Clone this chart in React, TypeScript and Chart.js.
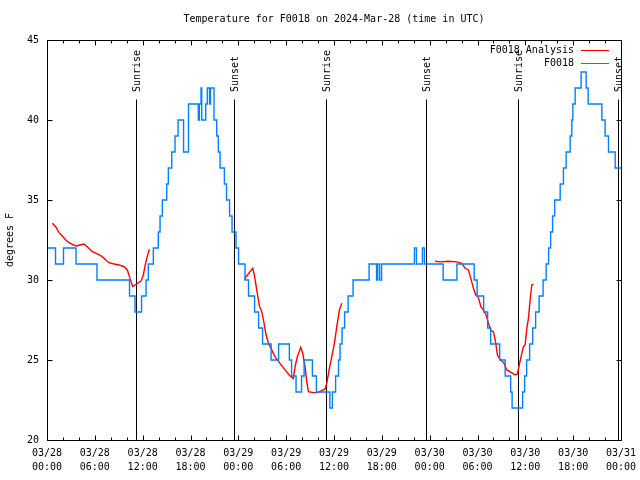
import React, { useEffect, useRef } from 'react';
import { Chart, registerables } from 'chart.js';

Chart.register(...registerables);

const TITLE = 'Temperature for F0018 on 2024-Mar-28 (time in UTC)';
const Y_TITLE = 'degrees F';
const FONT = '"DejaVu Sans Mono", "Liberation Mono", monospace';

// x axis: hours since 03/28 00:00 UTC
const xTickDates = ['03/28', '03/28', '03/28', '03/28', '03/29', '03/29', '03/29', '03/29', '03/30', '03/30', '03/30', '03/30', '03/31'];
const xTickTimes = ['00:00', '06:00', '12:00', '18:00', '00:00', '06:00', '12:00', '18:00', '00:00', '06:00', '12:00', '18:00', '00:00'];

// Sunrise / sunset markers (hours)
const sunEventHours = [11.13, 23.5, 35.05, 47.6, 59.12, 71.68];
const sunEventLabels = ['Sunrise', 'Sunset', 'Sunrise', 'Sunset', 'Sunrise', 'Sunset'];

// F0018 observations: value holds from each change time to the next
const obsHours = [0, 1.07, 2.07, 3.64, 6.27, 10.35, 11.04, 11.86, 12.42, 12.71, 13.34, 13.96, 14.18, 14.47, 15.02, 15.22, 15.65, 16.06, 16.44, 17.13, 17.75, 18.98, 19.11, 19.32, 19.41, 19.91, 20.11, 20.39, 20.51, 20.95, 21.29, 21.49, 21.71, 22.25, 22.52, 22.9, 23.21, 23.71, 24.03, 24.84, 25.28, 26.04, 26.54, 27.04, 28.11, 29.05, 30.4, 30.68, 31.24, 31.93, 32.25, 33.29, 33.79, 35.48, 35.8, 36.2, 36.57, 36.76, 37.01, 37.33, 37.77, 38.39, 40.4, 41.34, 41.47, 41.72, 41.97, 46.09, 46.34, 47.09, 47.34, 49.69, 51.42, 53.58, 53.95, 54.77, 55.27, 55.65, 56.78, 57.47, 58.16, 58.34, 59.66, 59.91, 60.16, 60.54, 60.92, 61.29, 61.73, 62.23, 62.61, 62.92, 63.17, 63.42, 63.68, 64.37, 64.78, 65.12, 65.62, 65.83, 65.96, 66.25, 67.0, 67.63, 67.88, 69.6, 70.01, 70.43, 71.27, 72];
const obsTemps = [32, 31, 32, 31, 30, 29, 28, 29, 30, 31, 32, 33, 34, 35, 36, 37, 38, 39, 40, 38, 41, 40, 41, 42, 40, 41, 42, 41, 42, 40, 39, 38, 37, 36, 35, 34, 33, 32, 31, 30, 29, 28, 27, 26, 25, 26, 25, 24, 23, 24, 25, 24, 23, 22, 23, 24, 25, 26, 27, 28, 29, 30, 31, 30, 31, 30, 31, 32, 31, 32, 31, 30, 31, 30, 29, 28, 27, 26, 25, 24, 23, 22, 23, 24, 25, 26, 27, 28, 29, 30, 31, 32, 33, 34, 35, 36, 37, 38, 39, 40, 41, 42, 43, 42, 41, 40, 39, 38, 37, 37];

// F0018 Analysis: three runs separated by gaps (null)
const analysisHours = [
  0.66, 1.09, 1.51, 1.92, 2.35, 2.76, 3.17, 3.68, 4.14, 4.64, 5.06, 5.68, 6.31, 6.94, 7.37, 7.78, 8.41, 9.03, 9.66, 10.08, 10.41, 10.75, 11.25, 11.79, 12.08, 12.3, 12.51, 12.84,
  18.0,
  24.76, 25.06, 25.47, 25.81, 26.01, 26.31, 26.64, 26.94, 27.23, 27.44, 27.77, 28.19, 28.61, 29.23, 29.86, 30.49, 30.9, 31.12, 31.4, 31.83, 32.08, 32.37, 32.58, 32.79, 33.41, 33.91, 34.47, 34.88, 35.09, 35.42, 35.72, 36.05, 36.35, 36.68, 36.98,
  42.0,
  48.68, 49.31, 50.35, 51.4, 52.03, 52.45, 52.86, 53.16, 53.49, 53.79, 54.11, 54.42, 54.74, 55.08, 55.37, 55.71, 56.0, 56.3, 56.5, 56.84, 57.34, 57.68, 58.31, 58.72, 59.01, 59.26, 59.56, 59.76, 59.97, 60.19, 60.39, 60.6, 60.81, 61.02,
];
const analysisTemps = [
  33.54, 33.33, 32.96, 32.75, 32.5, 32.33, 32.23, 32.13, 32.19, 32.25, 32.08, 31.77, 31.63, 31.46, 31.25, 31.08, 31.0, 30.94, 30.83, 30.63, 30.1, 29.6, 29.75, 29.94, 30.3, 30.88, 31.35, 31.92,
  null,
  30.04, 30.25, 30.52, 30.73, 30.31, 29.38, 28.38, 28.02, 27.29, 26.67, 26.04, 25.63, 25.2, 24.79, 24.38, 24.0, 23.85, 24.58, 25.2, 25.79, 25.42, 24.58, 23.65, 23.02, 22.96, 22.96, 23.08, 23.19, 23.54, 24.48, 25.2, 26.04, 27.08, 28.13, 28.54,
  null,
  31.17, 31.13, 31.17, 31.13, 31.04, 30.73, 30.63, 30.1, 29.48, 29.06, 28.92, 28.33, 28.13, 27.81, 27.29, 26.83, 26.77, 26.04, 25.31, 25.04, 24.79, 24.38, 24.2, 24.06, 24.13, 24.75, 25.42, 25.83, 25.94, 26.98, 27.6, 28.75, 29.69, 29.75,
];

const gnuplotFrame = {
  id: 'gnuplotFrame',
  beforeDatasetsDraw(chart: any) {
    const { ctx, chartArea: a } = chart;
    const x = chart.scales.x;
    ctx.save();
    ctx.strokeStyle = '#000';
    ctx.lineWidth = 1;
    ctx.fillStyle = '#000';
    ctx.font = `10px ${FONT}`;
    sunEventHours.forEach((h, i) => {
      const px = Math.round(x.getPixelForValue(h)) + 0.5;
      ctx.beginPath();
      ctx.moveTo(px, a.bottom);
      ctx.lineTo(px, a.top + 59.5);
      ctx.stroke();
      ctx.save();
      ctx.translate(px + 0.5, a.top + 52);
      ctx.rotate(-Math.PI / 2);
      ctx.textAlign = 'left';
      ctx.textBaseline = 'middle';
      ctx.fillText(sunEventLabels[i], 0, 0);
      ctx.restore();
    });
    ctx.restore();
  },
  afterDraw(chart: any) {
    const { ctx, chartArea: a } = chart;
    const x = chart.scales.x;
    const y = chart.scales.y;
    const L = Math.round(a.left) + 0.5;
    const R = Math.round(a.right) + 0.5;
    const T = Math.round(a.top) + 0.5;
    const B = Math.round(a.bottom) + 0.5;
    ctx.save();
    ctx.strokeStyle = '#000';
    ctx.lineWidth = 1;
    ctx.strokeRect(L, T, R - L, B - T);
    ctx.beginPath();
    for (let h = 0; h <= 72; h += 2) {
      const px = Math.round(x.getPixelForValue(h)) + 0.5;
      const len = h % 6 === 0 ? 5 : 3;
      ctx.moveTo(px, B);
      ctx.lineTo(px, B - len);
      ctx.moveTo(px, T);
      ctx.lineTo(px, T + len);
    }
    for (let v = 20; v <= 45; v += 5) {
      const py = Math.round(y.getPixelForValue(v)) + 0.5;
      ctx.moveTo(L, py);
      ctx.lineTo(L + 5, py);
      ctx.moveTo(R, py);
      ctx.lineTo(R - 5, py);
    }
    ctx.stroke();

    // key (gnuplot style, top right inside)
    ctx.font = `10px ${FONT}`;
    ctx.fillStyle = '#000';
    ctx.textAlign = 'right';
    ctx.textBaseline = 'middle';
    chart.data.datasets.forEach((ds: any, i: number) => {
      const yy = Math.round(a.top + 10 + i * 13) + 0.5;
      ctx.fillText(ds.label, a.right - 47, yy);
      ctx.strokeStyle = ds.borderColor;
      ctx.beginPath();
      ctx.moveTo(a.right - 40, yy);
      ctx.lineTo(a.right - 12, yy);
      ctx.stroke();
    });
    ctx.restore();
  },
};

export default function App() {
  const canvasRef = useRef<HTMLCanvasElement | null>(null);

  useEffect(() => {
    if (!canvasRef.current) return;
    const font = { family: FONT, size: 10 };
    const chart = new Chart(canvasRef.current, {
      type: 'line',
      data: {
        datasets: [
          {
            label: 'F0018 Analysis',
            data: analysisHours.map((h, i) => ({ x: h, y: analysisTemps[i] })),
            borderColor: '#ff0000',
            borderWidth: 1.4,
            pointRadius: 0,
            tension: 0,
            spanGaps: false,
            order: 1,
          },
          {
            label: 'F0018',
            data: obsHours.map((h, i) => ({ x: h, y: obsTemps[i] })),
            borderColor: 'rgb(0, 128, 255)',
            borderWidth: 1.4,
            pointRadius: 0,
            stepped: true,
            order: 0,
          },
        ],
      },
      options: {
        animation: false,
        responsive: false,
        devicePixelRatio: 1,
        layout: { padding: { left: 0, right: 19, top: 0, bottom: 0 } },
        plugins: {
          legend: { display: false },
          tooltip: { enabled: false },
          title: {
            display: true,
            text: TITLE,
            color: '#000',
            font: { ...font, weight: 'normal', lineHeight: 1.2 },
            fullSize: false,
            padding: { top: 13, bottom: 15 },
          },
        },
        scales: {
          x: {
            type: 'linear',
            min: 0,
            max: 72,
            afterFit: (s: any) => { s.height = 40; s.paddingLeft = 0; s.paddingRight = 0; },
            grid: { display: false, drawTicks: false },
            border: { display: false },
            ticks: {
              stepSize: 6,
              autoSkip: false,
              maxRotation: 0,
              minRotation: 0,
              padding: 6,
              color: '#000',
              font: { ...font, lineHeight: 1.4 },
              callback: (v: any) => {
                const i = Math.round(Number(v) / 6);
                return [xTickDates[i], xTickTimes[i]];
              },
            },
          },
          y: {
            min: 20,
            max: 45,
            afterFit: (s: any) => { s.width = 47; s.paddingTop = 0; s.paddingBottom = 0; },
            grid: { display: false, drawTicks: false },
            border: { display: false },
            ticks: { stepSize: 5, padding: 8, color: '#000', font },
            title: { display: true, text: Y_TITLE, color: '#000', font, padding: { top: 4, bottom: 0 } },
          },
        },
      },
      plugins: [gnuplotFrame],
    } as any);
    return () => chart.destroy();
  }, []);

  return (
    <div style={{ position: 'fixed', left: 0, top: 0, width: 640, height: 480, background: '#fff' }}>
      <canvas ref={canvasRef} width={640} height={480} />
    </div>
  );
}
